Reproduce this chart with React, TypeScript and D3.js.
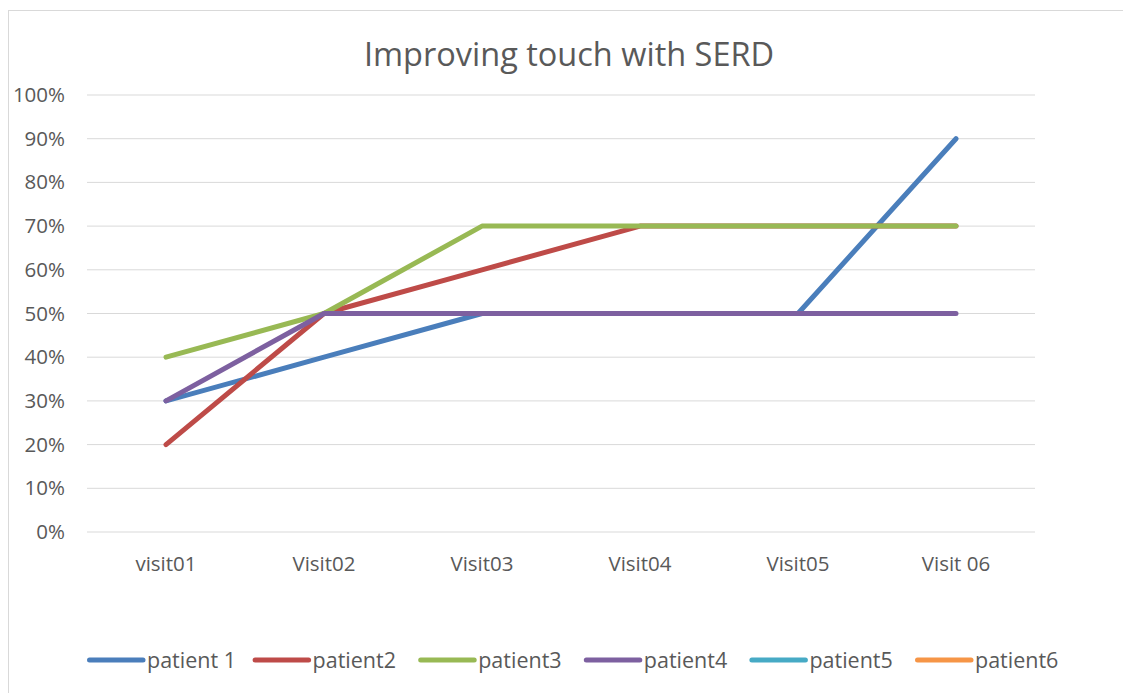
import React from "react";
import * as d3 from "d3";

const categories = ["visit01", "Visit02", "Visit03", "Visit04", "Visit05", "Visit 06"];
const seriesNames = ["patient 1", "patient2", "patient3", "patient4", "patient5", "patient6"];
const patient1 = [0.3, 0.4, 0.5, 0.5, 0.5, 0.9];
const patient2 = [0.2, 0.5, 0.6, 0.7, 0.7, 0.7];
const patient3 = [0.4, 0.5, 0.7, 0.7, 0.7, 0.7];
const patient4 = [0.3, 0.5, 0.5, 0.5, 0.5, 0.5];
const patient5: (number | null)[] = [null, null, null, null, null, null];
const patient6: (number | null)[] = [null, null, null, null, null, null];
const colors = ["#4a7ebb", "#be4b48", "#98b954", "#7d60a0", "#46aac5", "#f69546"];
const yTicks = [0, 0.1, 0.2, 0.3, 0.4, 0.5, 0.6, 0.7, 0.8, 0.9, 1];

const W = 1123;
const H = 693;
const FONT = "'Open Sans', 'Liberation Sans', sans-serif";

export default function App() {
  const allSeries = [patient1, patient2, patient3, patient4, patient5, patient6];
  const x = d3.scaleBand<string>().domain(categories).range([87, 1035]);
  const y = d3.scaleLinear().domain([0, 1]).range([532, 95]);
  const line = d3
    .line<number | null>()
    .defined((d) => d !== null)
    .x((_, i) => (x(categories[i]) as number) + x.bandwidth() / 2)
    .y((d) => y(d as number));
  const fmt = d3.format(".0%");

  const legend = d3.scalePoint<string>().domain(seriesNames).range([87, 915]);

  return (
    <svg width={W} height={H} style={{ position: "absolute", left: 0, top: 0, background: "#fff" }}>
      <rect x={8.5} y={10.5} width={W} height={H} fill="#fff" stroke="#d9d9d9" strokeWidth={1} />
      <text x={569} y={66} textAnchor="middle" fontFamily={FONT} fontSize={32.5} fill="#595959">
        Improving touch with SERD
      </text>
      {yTicks.map((t) => (
        <g key={t}>
          <line x1={87} x2={1035} y1={y(t)} y2={y(t)} stroke="#d9d9d9" strokeWidth={1} />
          <text x={65} y={y(t) + 7} textAnchor="end" fontFamily={FONT} fontSize={20.5} fill="#595959">
            {fmt(t)}
          </text>
        </g>
      ))}
      {categories.map((c) => (
        <text key={c} x={(x(c) as number) + x.bandwidth() / 2} y={571} textAnchor="middle" fontFamily={FONT} fontSize={20.5} fill="#595959">
          {c}
        </text>
      ))}
      {allSeries.map((s, i) => (
        <path key={i} d={line(s) || ""} fill="none" stroke={colors[i]} strokeWidth={5} strokeLinecap="round" strokeLinejoin="round" />
      ))}
      {seriesNames.map((n, i) => {
        const lx = legend(n) as number;
        return (
          <g key={n}>
            <line x1={lx + 2.5} x2={lx + 56} y1={660} y2={660} stroke={colors[i]} strokeWidth={5} strokeLinecap="round" />
            <text x={lx + 60} y={667.5} fontFamily={FONT} fontSize={21.5} fill="#595959">
              {n}
            </text>
          </g>
        );
      })}
    </svg>
  );
}
